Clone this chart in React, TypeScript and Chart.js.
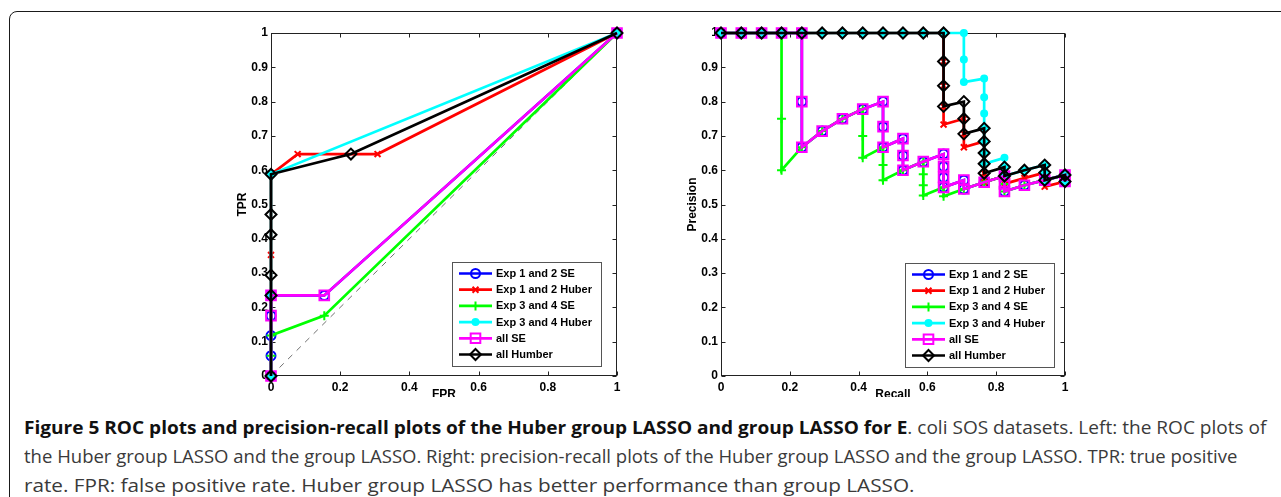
import React, { useEffect, useLayoutEffect, useRef } from 'react';
import { Chart, registerables } from 'chart.js';

Chart.register(...registerables);

// ---------------- data ----------------
const SERIES_LABELS = ['Exp 1 and 2 SE', 'Exp 1 and 2 Huber', 'Exp 3 and 4 SE', 'Exp 3 and 4 Huber', 'all SE', 'all Humber'];
const SERIES_COLORS = ['#0000ff', '#ff0000', '#00ff00', '#00ffff', '#ff00ff', '#000000'];

const X_TICKS = [0, 0.2, 0.4, 0.6, 0.8, 1];
const X_TICK_LABELS = ['0', '0.2', '0.4', '0.6', '0.8', '1'];
const Y_TICKS = [0, 0.1, 0.2, 0.3, 0.4, 0.5, 0.6, 0.7, 0.8, 0.9, 1];
const Y_TICK_LABELS = ['0', '0.1', '0.2', '0.3', '0.4', '0.5', '0.6', '0.7', '0.8', '0.9', '1'];

// ROC (left): FPR / TPR
const ROC_FPR_EXP12_SE = [0, 0, 0, 0, 0, 0.154, 1];
const ROC_TPR_EXP12_SE = [0, 0.059, 0.118, 0.176, 0.235, 0.235, 1];
const ROC_FPR_EXP12_HUBER = [0, 0, 0, 0.077, 0.308, 1];
const ROC_TPR_EXP12_HUBER = [0, 0.353, 0.588, 0.647, 0.647, 1];
const ROC_FPR_EXP34_SE = [0, 0, 0, 0.154, 1];
const ROC_TPR_EXP34_SE = [0, 0.059, 0.118, 0.176, 1];
const ROC_FPR_EXP34_HUBER = [0, 0, 0, 1];
const ROC_TPR_EXP34_HUBER = [0, 0.235, 0.588, 1];
const ROC_FPR_ALL_SE = [0, 0, 0, 0.154, 1];
const ROC_TPR_ALL_SE = [0, 0.176, 0.235, 0.235, 1];
const ROC_FPR_ALL_HUBER = [0, 0, 0, 0, 0, 0, 0.231, 1];
const ROC_TPR_ALL_HUBER = [0, 0.235, 0.294, 0.412, 0.471, 0.588, 0.647, 1];
const ROC_DIAG_X = [0, 1];
const ROC_DIAG_Y = [0, 1];

// Precision-recall (right): Recall / Precision
const PR_REC_EXP12_SE = [0, 0.059, 0.118, 0.176, 0.235, 0.235, 0.235, 0.294, 0.353, 0.412, 0.471, 0.471, 0.471, 0.529, 0.529, 0.529, 0.588, 0.647, 0.647, 0.647, 0.647, 0.706, 0.706, 0.765, 0.824, 0.824, 0.824, 0.882, 0.941, 1, 1];
const PR_PRE_EXP12_SE = [1, 1, 1, 1, 1, 0.8, 0.667, 0.714, 0.75, 0.778, 0.8, 0.727, 0.667, 0.692, 0.643, 0.6, 0.625, 0.647, 0.611, 0.579, 0.55, 0.571, 0.545, 0.565, 0.583, 0.56, 0.538, 0.556, 0.571, 0.586, 0.567];
const PR_REC_EXP12_HUBER = [0, 0.059, 0.118, 0.176, 0.235, 0.294, 0.353, 0.412, 0.471, 0.529, 0.588, 0.647, 0.647, 0.647, 0.647, 0.647, 0.706, 0.706, 0.706, 0.765, 0.765, 0.765, 0.765, 0.765, 0.824, 0.824, 0.882, 0.941, 0.941, 0.941, 1];
const PR_PRE_EXP12_HUBER = [1, 1, 1, 1, 1, 1, 1, 1, 1, 1, 1, 1, 0.917, 0.846, 0.786, 0.733, 0.75, 0.706, 0.667, 0.684, 0.65, 0.619, 0.591, 0.565, 0.583, 0.56, 0.577, 0.593, 0.571, 0.552, 0.567];
const PR_REC_EXP34_SE = [0, 0.059, 0.118, 0.176, 0.176, 0.176, 0.235, 0.294, 0.353, 0.412, 0.412, 0.412, 0.471, 0.471, 0.471, 0.529, 0.588, 0.588, 0.588, 0.588, 0.647, 0.647, 0.706, 0.765, 0.824, 0.824, 0.824, 0.882, 0.941, 1, 1];
const PR_PRE_EXP34_SE = [1, 1, 1, 1, 0.75, 0.6, 0.667, 0.714, 0.75, 0.778, 0.7, 0.636, 0.667, 0.615, 0.571, 0.6, 0.625, 0.588, 0.556, 0.526, 0.55, 0.524, 0.545, 0.565, 0.583, 0.56, 0.538, 0.556, 0.571, 0.586, 0.567];
const PR_REC_EXP34_HUBER = [0, 0.059, 0.118, 0.176, 0.235, 0.294, 0.353, 0.412, 0.471, 0.529, 0.588, 0.647, 0.706, 0.706, 0.706, 0.765, 0.765, 0.765, 0.765, 0.765, 0.765, 0.765, 0.824, 0.824, 0.824, 0.882, 0.941, 0.941, 0.941, 1, 1];
const PR_PRE_EXP34_HUBER = [1, 1, 1, 1, 1, 1, 1, 1, 1, 1, 1, 1, 1, 0.923, 0.857, 0.867, 0.813, 0.765, 0.722, 0.684, 0.65, 0.619, 0.636, 0.609, 0.583, 0.6, 0.615, 0.593, 0.571, 0.586, 0.567];
const PR_REC_ALL_SE = [0, 0.059, 0.118, 0.176, 0.235, 0.235, 0.235, 0.294, 0.353, 0.412, 0.471, 0.471, 0.471, 0.529, 0.529, 0.529, 0.588, 0.647, 0.647, 0.647, 0.647, 0.706, 0.706, 0.765, 0.824, 0.824, 0.824, 0.882, 0.941, 1, 1];
const PR_PRE_ALL_SE = [1, 1, 1, 1, 1, 0.8, 0.667, 0.714, 0.75, 0.778, 0.8, 0.727, 0.667, 0.692, 0.643, 0.6, 0.625, 0.647, 0.611, 0.579, 0.55, 0.571, 0.545, 0.565, 0.583, 0.56, 0.538, 0.556, 0.571, 0.586, 0.567];
const PR_REC_ALL_HUBER = [0, 0.059, 0.118, 0.176, 0.235, 0.294, 0.353, 0.412, 0.471, 0.529, 0.588, 0.647, 0.647, 0.647, 0.647, 0.706, 0.706, 0.706, 0.765, 0.765, 0.765, 0.765, 0.765, 0.824, 0.824, 0.882, 0.941, 0.941, 0.941, 1, 1];
const PR_PRE_ALL_HUBER = [1, 1, 1, 1, 1, 1, 1, 1, 1, 1, 1, 1, 0.917, 0.846, 0.786, 0.8, 0.75, 0.706, 0.722, 0.684, 0.65, 0.619, 0.591, 0.609, 0.583, 0.6, 0.615, 0.593, 0.571, 0.586, 0.567];

const CAPTION_BOLD = 'Figure 5 ROC plots and precision-recall plots of the Huber group LASSO and group LASSO for E';
const CAPTION_LINE1_REST = '. coli SOS datasets. Left: the ROC plots of';
const CAPTION_LINE2 = 'the Huber group LASSO and the group LASSO. Right: precision-recall plots of the Huber group LASSO and the group LASSO. TPR: true positive';
const CAPTION_LINE3 = 'rate. FPR: false positive rate. Huber group LASSO has better performance than group LASSO.';

// ---------------- styles ----------------
const MARKERS = ['circle', 'crossRot', 'cross', 'circle', 'rect', 'rectRot'];
const MARKER_RADII = [4.5, 4.2, 4.5, 3, 6.8, 5.5];
const MARKER_FILLED = [false, false, false, true, false, false];
const FONT_FAMILY = '"Liberation Sans", Arial, Helvetica, sans-serif';
const CAPTION_LINE_WIDTHS = [1243, 1213, 891];

function makeSeries(i: number, xs: number[], ys: number[]) {
  const c = SERIES_COLORS[i];
  return {
    label: SERIES_LABELS[i],
    data: xs.map((x, k) => ({ x, y: ys[k] })),
    showLine: true,
    borderColor: c,
    backgroundColor: c,
    borderWidth: 2.7,
    pointStyle: MARKERS[i],
    pointRadius: MARKER_RADII[i],
    pointBorderWidth: 2,
    pointBorderColor: c,
    pointBackgroundColor: MARKER_FILLED[i] ? c : 'rgba(0,0,0,0)',
    order: 6 - i,
    clip: false,
    tension: 0,
  };
}

function drawMarker(ctx: CanvasRenderingContext2D, style: string, x: number, y: number, r: number, color: string, fill: string, lw: number) {
  ctx.save();
  ctx.strokeStyle = color;
  ctx.fillStyle = fill;
  ctx.lineWidth = lw;
  ctx.beginPath();
  if (style === 'circle') {
    ctx.arc(x, y, r, 0, Math.PI * 2);
    ctx.fill();
    ctx.stroke();
  } else if (style === 'cross') {
    ctx.moveTo(x - r, y); ctx.lineTo(x + r, y);
    ctx.moveTo(x, y - r); ctx.lineTo(x, y + r);
    ctx.stroke();
  } else if (style === 'crossRot') {
    const d = r * Math.SQRT1_2;
    ctx.moveTo(x - d, y - d); ctx.lineTo(x + d, y + d);
    ctx.moveTo(x - d, y + d); ctx.lineTo(x + d, y - d);
    ctx.stroke();
  } else if (style === 'rect') {
    const s = r * Math.SQRT1_2;
    ctx.rect(x - s, y - s, 2 * s, 2 * s);
    ctx.fill();
    ctx.stroke();
  } else if (style === 'rectRot') {
    ctx.moveTo(x, y - r); ctx.lineTo(x + r, y); ctx.lineTo(x, y + r); ctx.lineTo(x - r, y);
    ctx.closePath();
    ctx.fill();
    ctx.stroke();
  }
  ctx.restore();
}

const framePlugin = {
  id: 'matlabFrame',
  beforeDatasetsDraw(chart: any) {
    const { ctx, chartArea: a, scales } = chart;
    ctx.save();
    ctx.strokeStyle = '#222';
    ctx.lineWidth = 1;
    const L = Math.round(a.left) + 0.5, T = Math.round(a.top) + 0.5;
    const R = Math.round(a.right) - 0.5, B = Math.round(a.bottom) - 0.5;
    ctx.strokeRect(L, T, R - L, B - T);
    const tl = 4;
    ctx.beginPath();
    for (const t of scales.x.ticks) {
      const px = Math.round(scales.x.getPixelForValue(t.value)) + 0.5;
      ctx.moveTo(px, B); ctx.lineTo(px, B - tl);
      ctx.moveTo(px, T); ctx.lineTo(px, T + tl);
    }
    for (const t of scales.y.ticks) {
      const py = Math.round(scales.y.getPixelForValue(t.value)) + 0.5;
      ctx.moveTo(L, py); ctx.lineTo(L + tl, py);
      ctx.moveTo(R, py); ctx.lineTo(R - tl, py);
    }
    ctx.stroke();
    ctx.restore();
  },
};

const boxLegendPlugin = {
  id: 'boxLegend',
  afterDatasetsDraw(chart: any, _args: any, opts: any) {
    const { ctx, chartArea: a } = chart;
    const w = opts.width, h = opts.height;
    const x0 = Math.round(a.right - opts.right - w), y0 = Math.round(a.bottom - opts.bottom - h);
    ctx.save();
    ctx.fillStyle = '#fff';
    ctx.fillRect(x0, y0, w, h);
    ctx.strokeStyle = '#555';
    ctx.lineWidth = 1;
    ctx.strokeRect(x0 + 0.5, y0 + 0.5, w, h);
    const items = chart.data.datasets.filter((d: any) => d.label);
    items.forEach((d: any, i: number) => {
      const cy = y0 + 11.5 + i * 16.2;
      ctx.strokeStyle = d.borderColor;
      ctx.lineWidth = d.borderWidth;
      ctx.beginPath();
      ctx.moveTo(x0 + 7, cy);
      ctx.lineTo(x0 + 40, cy);
      ctx.stroke();
      drawMarker(ctx, d.pointStyle, x0 + 23.5, cy, d.pointRadius, d.pointBorderColor, d.pointBackgroundColor, d.pointBorderWidth);
      ctx.fillStyle = '#000';
      ctx.font = 'bold 11px ' + FONT_FAMILY;
      ctx.textBaseline = 'middle';
      ctx.textAlign = 'left';
      ctx.fillText(d.label, x0 + 44, cy + 0.5);
    });
    ctx.restore();
  },
};

function makeConfig(datasets: any[], xTitle: string, yTitle: string, padRight: number, legendRight: number, legendBottom: number) {
  const tickFont = { family: FONT_FAMILY, size: 12, weight: 'bold' as const };
  const titleFont = { family: FONT_FAMILY, size: 12, weight: 'bold' as const };
  return {
    type: 'scatter' as const,
    data: { datasets },
    plugins: [framePlugin, boxLegendPlugin],
    options: {
      animation: false as const,
      responsive: false,
      maintainAspectRatio: false,
      layout: { padding: { left: 0, top: 13, right: padRight, bottom: 0 } },
      plugins: {
        legend: { display: false },
        tooltip: { enabled: false },
        boxLegend: { width: 149, height: 104, right: legendRight, bottom: legendBottom },
      },
      scales: {
        x: {
          type: 'linear' as const,
          min: 0,
          max: 1,
          afterBuildTicks: (s: any) => { s.ticks = X_TICKS.map((v) => ({ value: v })); },
          afterFit: (s: any) => { s.height = 21; },
          ticks: {
            callback: (v: any) => X_TICK_LABELS[X_TICKS.indexOf(v)],
            font: tickFont,
            color: '#000',
            padding: 4,
            maxRotation: 0,
            autoSkip: false,
          },
          grid: { display: false, drawTicks: false },
          border: { display: false },
          title: { display: true, text: xTitle, font: titleFont, color: '#000', padding: { top: 0, bottom: -5 } },
        },
        y: {
          type: 'linear' as const,
          min: 0,
          max: 1,
          afterBuildTicks: (s: any) => { s.ticks = Y_TICKS.map((v) => ({ value: v })); },
          afterFit: (s: any) => { s.width = 71; },
          ticks: {
            callback: (v: any) => Y_TICK_LABELS[Y_TICKS.indexOf(v)],
            font: tickFont,
            color: '#000',
            padding: 3,
            autoSkip: false,
          },
          grid: { display: false, drawTicks: false },
          border: { display: false },
          title: { display: true, text: yTitle, font: titleFont, color: '#000', padding: { top: 35, bottom: 0 } },
        },
      },
    },
  };
}

function ChartCanvas({ config, left, top, width, height }: any) {
  const ref = useRef<HTMLCanvasElement | null>(null);
  useEffect(() => {
    if (!ref.current) return;
    const chart = new Chart(ref.current, config());
    return () => chart.destroy();
  }, []);
  return (
    <canvas
      ref={ref}
      width={width}
      height={height}
      style={{ position: 'absolute', left, top, width, height, display: 'block' }}
    />
  );
}

function rocConfig() {
  const diag = {
    label: '',
    data: ROC_DIAG_X.map((x, k) => ({ x, y: ROC_DIAG_Y[k] })),
    showLine: true,
    borderColor: '#707070',
    borderWidth: 1,
    borderDash: [6, 6],
    pointRadius: 0,
    order: 20,
  };
  return makeConfig(
    [
      diag,
      makeSeries(0, ROC_FPR_EXP12_SE, ROC_TPR_EXP12_SE),
      makeSeries(1, ROC_FPR_EXP12_HUBER, ROC_TPR_EXP12_HUBER),
      makeSeries(2, ROC_FPR_EXP34_SE, ROC_TPR_EXP34_SE),
      makeSeries(3, ROC_FPR_EXP34_HUBER, ROC_TPR_EXP34_HUBER),
      makeSeries(4, ROC_FPR_ALL_SE, ROC_TPR_ALL_SE),
      makeSeries(5, ROC_FPR_ALL_HUBER, ROC_TPR_ALL_HUBER),
    ],
    'FPR',
    'TPR',
    23,
    16,
    10
  );
}

function prConfig() {
  return makeConfig(
    [
      makeSeries(0, PR_REC_EXP12_SE, PR_PRE_EXP12_SE),
      makeSeries(1, PR_REC_EXP12_HUBER, PR_PRE_EXP12_HUBER),
      makeSeries(2, PR_REC_EXP34_SE, PR_PRE_EXP34_SE),
      makeSeries(3, PR_REC_EXP34_HUBER, PR_PRE_EXP34_HUBER),
      makeSeries(4, PR_REC_ALL_SE, PR_PRE_ALL_SE),
      makeSeries(5, PR_REC_ALL_HUBER, PR_PRE_ALL_HUBER),
    ],
    'Recall',
    'Precision',
    25,
    11,
    9
  );
}

function Caption() {
  const refs = [useRef<HTMLDivElement | null>(null), useRef<HTMLDivElement | null>(null), useRef<HTMLDivElement | null>(null)];
  useLayoutEffect(() => {
    refs.forEach((r, i) => {
      const el = r.current;
      if (!el) return;
      const w = el.scrollWidth;
      const k = w > 0 ? CAPTION_LINE_WIDTHS[i] / w : 1;
      el.style.transform = `scaleX(${k})`;
    });
  }, []);
  const lineStyle: React.CSSProperties = { display: 'table', whiteSpace: 'nowrap', transformOrigin: '0 0' };
  return (
    <div
      style={{
        position: 'absolute',
        left: 24,
        top: 413,
        fontFamily: '"Open Sans", "Noto Sans", sans-serif',
        fontSize: 18,
        lineHeight: '29px',
        color: '#3a3a3a',
      }}
    >
      <div ref={refs[0]} style={lineStyle}>
        <span style={{ fontWeight: 700, color: '#111' }}>{CAPTION_BOLD}</span>
        {CAPTION_LINE1_REST}
      </div>
      <div ref={refs[1]} style={lineStyle}>{CAPTION_LINE2}</div>
      <div ref={refs[2]} style={lineStyle}>{CAPTION_LINE3}</div>
    </div>
  );
}

export default function App() {
  return (
    <div style={{ position: 'absolute', left: 0, top: 0, width: 1281, height: 497, overflow: 'hidden', background: '#fff' }}>
      <div
        style={{
          position: 'absolute',
          left: 9,
          top: 11,
          width: 1300,
          height: 520,
          border: '1.5px solid #1a1a1a',
          borderRadius: 8,
          boxSizing: 'border-box',
        }}
      />
      <ChartCanvas config={rocConfig} left={200} top={20} width={440} height={377} />
      <ChartCanvas config={prConfig} left={650} top={20} width={440} height={377} />
      <Caption />
    </div>
  );
}
